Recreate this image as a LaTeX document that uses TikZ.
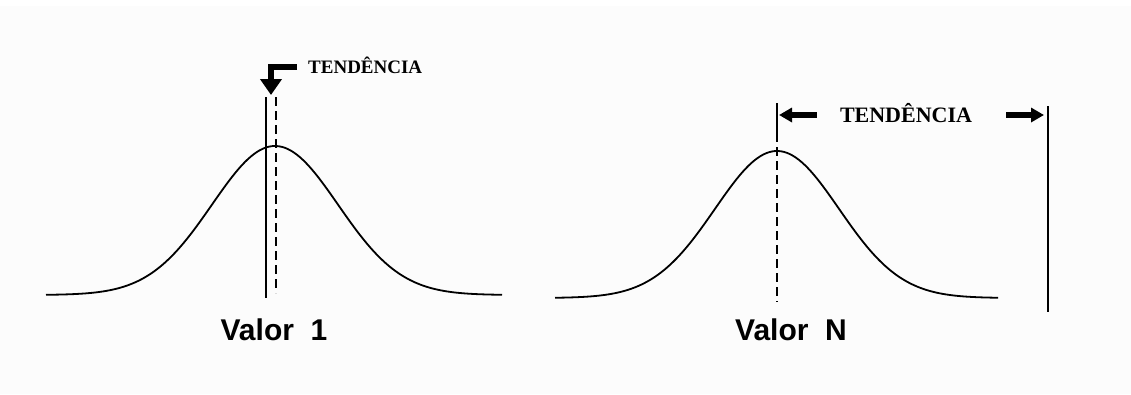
\documentclass[tikz,border=0pt]{standalone}
\usepackage{fontspec}
\setmainfont{Liberation Serif}
\setsansfont{Liberation Sans}
\usetikzlibrary{arrows.meta, positioning}

\begin{document}
\begin{tikzpicture}[
  x=1pt, y=-1pt,
  curva/.style={line width=1.8pt, line join=round},
  eixo/.style={line width=1.8pt},
  tracejado/.style={line width=1.8pt, dash pattern=on 9pt off 5pt},
  seta/.style={line width=6.5pt, -{Triangle[width=21pt, length=16pt]}},
  setinha/.style={line width=5.5pt, -{Triangle[width=14pt, length=13pt]}},
  rotulo/.style={font=\sffamily\bfseries\fontsize{30}{30}\selectfont, inner sep=0pt},
  tend/.style={font=\bfseries\fontsize{22}{22}\selectfont, inner sep=0pt},
  tendp/.style={font=\bfseries\fontsize{19}{19}\selectfont, inner sep=0pt}
]
  \useasboundingbox[fill=black!1] (0,0) rectangle (1131,394);
  \fill[white] (0,0) rectangle (1131,6);

  % --- Curva 1 ---
  \draw[curva] plot[domain=46:502, samples=150]
    (\x, {295-149*exp(-((\x-275)/63)^2/2)});
  \coordinate (s1top) at (266,97);  \coordinate (s1bot) at (266,298);
  \coordinate (d1top) at (276,97);  \coordinate (d1bot) at (276,293);
  \draw[eixo]      (s1top) -- (s1bot);
  \draw[tracejado] (d1top) -- (d1bot);
  \node[rotulo, anchor=base] (valor1) at (274,340) {Valor\ \ 1};

  % --- Seta em L e texto ---
  \node[tendp, anchor=base west] (tend1) at (308,73) {TENDÊNCIA};
  \coordinate (l1) at (297,67);
  \coordinate (l2) at (271,95);
  \draw[seta] (l1) -| (l2);

  % --- Curva N ---
  \draw[curva] plot[domain=555:998, samples=150]
    (\x, {298-147*exp(-((\x-777)/62)^2/2)});
  \coordinate (sNtop) at (777,103); \coordinate (sNmid) at (777,142);
  \coordinate (dNtop) at (777,147); \coordinate (dNbot) at (777,302);
  \draw[eixo]      (sNtop) -- (sNmid);
  \draw[tracejado] (dNtop) -- (dNbot);
  \node[rotulo, anchor=base] (valorN) at (791,340) {Valor\ \ N};

  % --- Faixa de tendencia ---
  \coordinate (fimtop) at (1048,106); \coordinate (fimbot) at (1048,312);
  \draw[eixo] (fimtop) -- (fimbot);
  \node[tend, anchor=base] (tend2) at (906,122) {TENDÊNCIA};
  \coordinate[left=23pt of tend2.west]  (a1);
  \coordinate[right=34pt of tend2.east] (b1);
  \draw[setinha] (a1 |- 0,115) -- (779,115);
  \draw[setinha] (b1 |- 0,115) -- (1044,115);
\end{tikzpicture}
\end{document}
